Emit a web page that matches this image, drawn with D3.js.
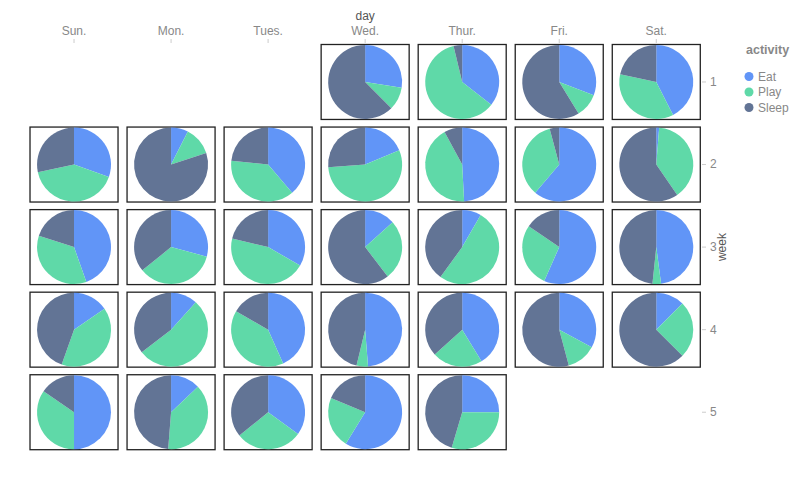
<!DOCTYPE html>
<html>
<head>
<meta charset="utf-8">
<script src="https://cdn.jsdelivr.net/npm/d3@7"></script>
<style>
  body { margin: 0; background: #fff; }
  text { font-family: "Liberation Sans", Arial, Helvetica, sans-serif; }
</style>
</head>
<body>
<svg id="chart" width="800" height="480"></svg>
<script>
// categories
var days = ["Sun.", "Mon.", "Tues.", "Wed.", "Thur.", "Fri.", "Sat."];
var weeks = [1, 2, 3, 4, 5];
var activities = ["Eat", "Play", "Sleep"];
var colors = ["#6195f7", "#5fd9a8", "#627495"];

// hours per activity for each day
var cellWeek = [1, 1, 1, 1,
  2, 2, 2, 2, 2, 2, 2,
  3, 3, 3, 3, 3, 3, 3,
  4, 4, 4, 4, 4, 4, 4,
  5, 5, 5, 5, 5];
var cellDay = ["Wed.", "Thur.", "Fri.", "Sat.",
  "Sun.", "Mon.", "Tues.", "Wed.", "Thur.", "Fri.", "Sat.",
  "Sun.", "Mon.", "Tues.", "Wed.", "Thur.", "Fri.", "Sat.",
  "Sun.", "Mon.", "Tues.", "Wed.", "Thur.", "Fri.", "Sat.",
  "Sun.", "Mon.", "Tues.", "Wed.", "Thur."];
var eatHours = [6.6, 8.5, 7.4, 10.2,
  7.3, 1.8, 9.3, 4.5, 11.8, 14.7, 0.3,
  10.7, 7.0, 8.0, 3.2, 2.0, 13.6, 11.5,
  3.7, 2.8, 10.4, 11.7, 9.9, 7.9, 3.0,
  12.0, 3.1, 8.4, 14.1, 6.0];
var playHours = [2.4, 14.5, 2.5, 8.6,
  9.9, 3.0, 9.1, 13.3, 10.3, 8.3, 9.4,
  8.5, 8.4, 10.9, 6.3, 12.4, 6.7, 0.9,
  9.6, 12.7, 9.6, 1.2, 5.3, 3.1, 6.0,
  8.3, 9.2, 7.0, 5.4, 7.1];
var sleepHours = [15.0, 0.9, 14.1, 5.2,
  6.8, 19.2, 5.6, 6.3, 1.9, 1.0, 14.3,
  4.8, 8.6, 5.1, 14.5, 9.6, 3.7, 11.6,
  10.7, 8.5, 4.0, 11.1, 8.8, 13.0, 15.0,
  3.7, 11.7, 8.6, 4.5, 10.9];

var cells = cellDay.map(function(d, i) {
  return {
    day: d,
    week: cellWeek[i],
    values: [eatHours[i], playHours[i], sleepHours[i]]
  };
});

var svg = d3.select("#chart");

var x = d3.scaleBand()
  .domain(days)
  .range([25.5, 704.8])
  .paddingInner(0.093)
  .paddingOuter(0.0465);

var y = d3.scaleBand()
  .domain(weeks)
  .range([40.7, 453.5])
  .paddingInner(0.092)
  .paddingOuter(0.046);

var color = d3.scaleOrdinal().domain(activities).range(colors);

var radius = Math.min(x.bandwidth(), y.bandwidth()) / 2 - 0.5;

var pie = d3.pie().sort(null).value(function(d) { return d.value; });
var arc = d3.arc().innerRadius(0).outerRadius(radius);

// 每个格子
var cell = svg.append("g")
  .selectAll("g")
  .data(cells)
  .enter().append("g")
  .attr("transform", function(d) {
    return "translate(" + x(d.day) + "," + y(d.week) + ")";
  });

cell.append("rect")
  .attr("width", x.bandwidth())
  .attr("height", y.bandwidth())
  .attr("fill", "#fff")
  .attr("stroke", "#222")
  .attr("stroke-width", 1.3);

cell.append("g")
  .attr("transform", "translate(" + x.bandwidth() / 2 + "," + y.bandwidth() / 2 + ")")
  .selectAll("path")
  .data(function(d) {
    return pie(activities.map(function(a, j) { return { key: a, value: d.values[j] }; }));
  })
  .enter().append("path")
  .attr("d", arc)
  .attr("fill", function(d) { return color(d.data.key); });

// 列轴（顶部）
var xAxis = svg.append("g")
  .attr("transform", "translate(0,43)")
  .call(d3.axisTop(x).tickSize(4).tickPadding(4));
xAxis.select(".domain").remove();
xAxis.selectAll(".tick line").attr("stroke", "#ccc");
xAxis.selectAll(".tick text")
  .attr("fill", "#888")
  .style("font-size", "12px")
  .style("font-family", "'Liberation Sans', Arial, sans-serif");

svg.append("text")
  .attr("x", x("Wed.") + x.bandwidth() / 2)
  .attr("y", 20)
  .attr("text-anchor", "middle")
  .attr("fill", "#555")
  .style("font-size", "12px")
  .text("day");

// 行轴（右侧）
var yAxis = svg.append("g")
  .attr("transform", "translate(702,0)")
  .call(d3.axisRight(y).tickSize(4).tickPadding(4));
yAxis.select(".domain").remove();
yAxis.selectAll(".tick line").attr("stroke", "#ccc");
yAxis.selectAll(".tick text")
  .attr("fill", "#888")
  .style("font-size", "12px")
  .style("font-family", "'Liberation Sans', Arial, sans-serif");

svg.append("text")
  .attr("transform", "translate(726," + (y.range()[0] + y.range()[1]) / 2 + ") rotate(-90)")
  .attr("text-anchor", "middle")
  .attr("fill", "#555")
  .style("font-size", "12px")
  .text("week");

// 图例
var legend = svg.append("g").attr("transform", "translate(746,0)");

legend.append("text")
  .attr("x", 0)
  .attr("y", 54)
  .attr("fill", "#888")
  .style("font-size", "12.5px")
  .style("font-weight", "bold")
  .text("activity");

var item = legend.selectAll(".item")
  .data(activities)
  .enter().append("g")
  .attr("class", "item")
  .attr("transform", function(d, i) { return "translate(0," + (76.5 + i * 15.5) + ")"; });

item.append("circle")
  .attr("cx", 3)
  .attr("cy", 0)
  .attr("r", 4.5)
  .attr("fill", function(d) { return color(d); });

item.append("text")
  .attr("x", 12)
  .attr("y", 0)
  .attr("dy", "0.35em")
  .attr("fill", "#888")
  .style("font-size", "12px")
  .text(function(d) { return d; });
</script>
</body>
</html>
